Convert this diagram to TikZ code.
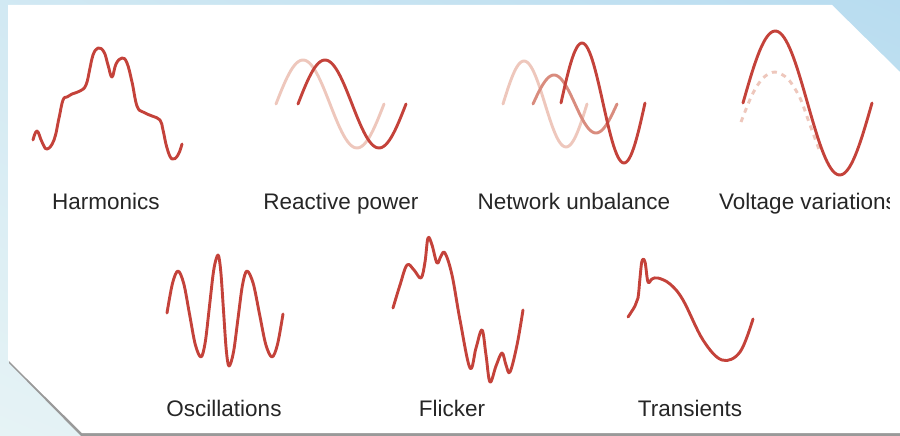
\documentclass[tikz,border=0pt]{standalone}
\usepackage{xcolor}
\usepackage{fontspec}
\setmainfont{Liberation Sans}
\usepackage{tikz}
\usetikzlibrary{shadings}

\definecolor{wavered}{HTML}{C4423A}
\definecolor{wavemid}{HTML}{D98C7E}
\definecolor{wavepale}{HTML}{EEC7BC}
\definecolor{skyblue}{HTML}{B8DCF0}
\definecolor{paleblue}{HTML}{E6F3F5}

\begin{document}
\begin{tikzpicture}[x=1pt,y=-1pt,
	wave/.style={line width=2.9pt, draw=wavered, line cap=round, line join=round},
	midwave/.style={wave, draw=wavemid},
	palewave/.style={wave, draw=wavepale},
	caption/.style={anchor=base, inner sep=0pt, text=black!85, font=\fontsize{22.5}{27}\selectfont}]
\useasboundingbox (0,0) rectangle (900,436);
\shade[upper left=paleblue!55!skyblue, upper right=skyblue, lower left=paleblue, lower right=paleblue!60!skyblue] (0,0) rectangle (900,436);
% panel
\fill[black!40] (9,7) -- (833,7) -- (902,75) -- (902,437) -- (82,437) -- (9,363) -- cycle;
\fill[white] (8,5) -- (832,5) -- (900,72) -- (900,433) -- (82,433) -- (8,360) -- cycle;

% first row
\draw[wave] plot[smooth, tension=0.7] coordinates {
	(33,140) (37,131) (42,142) (47,149) (54,140) (59,118) (63,100) (67,97)
	(72,94) (80,91) (86,85) (90,68) (93,55) (98,48) (104,52) (108,65)
	(112,77) (116,64) (122,58) (127,63) (132,82) (137,106) (143,112)
	(152,116) (160,120) (163,130) (167,148) (172,159) (178,155) (182,144)};
\node[caption] (harmonics) at (106,209) {Harmonics};

\draw[palewave] plot[domain=276:384, samples=60] (\x, {104-44*sin(360*((\x-276)/108))});
\draw[wave] plot[domain=298:406, samples=60] (\x, {104-44*sin(360*((\x-298)/108))});
\node[caption] (reactive) at (341,209) {Reactive power};

\draw[palewave] plot[domain=503:587, samples=60] (\x, {104-43*sin(360*((\x-503)/84))});
\draw[midwave] plot[domain=533:617, samples=60] (\x, {104-29*sin(360*((\x-533)/84))});
\draw[wave] plot[domain=561:645, samples=60] (\x, {103-60*sin(360*((\x-561)/84))});
\node[caption] (unbalance) at (574,209) {Network unbalance};

\draw[palewave, dashed, dash pattern=on 5pt off 5pt, line cap=butt] plot[smooth] coordinates {
	(741,122) (752,95) (763,78) (775,72) (788,79) (800,98) (810,125) (820,152)};
\draw[wave] plot[domain=743:872, samples=70] (\x, {103-72*sin(360*((\x-743)/129))});
\begin{scope}
	\clip (700,180) rectangle (889,230);
	\node[caption, anchor=base west] (voltage) at (719,209) {Voltage variations};
\end{scope}

% second row
\draw[wave] plot[smooth, tension=0.55] coordinates {
	(167,313) (172.5,283.3) (178,271) (183.75,283.6) (189.5,314) (195.25,344.4)
	(201,357) (205.25,342.1) (209.5,306) (213.75,269.9) (218,255) (220.75,271.2)
	(223.5,310.5) (226.25,349.8) (229,366) (233.5,352.1) (238,318.5) (242.5,284.9)
	(247,271) (253.25,283.6) (259.5,314) (265.75,344.4) (272,357) (277.5,344.4)
	(283,314)};
\node[caption] (oscillations) at (224,416) {Oscillations};

\draw[wave] plot[smooth, tension=0.6] coordinates {
	(393,308) (400,285) (407,265) (414,270) (421,278) (425,262) (428,238)
	(432,245) (437,263) (441,256) (445,253) (452,275) (460,320) (470,368)
	(476,348) (482,330) (486,355) (490,382) (496,366) (502,353) (506,365)
	(510,372) (517,345) (523,310)};
\node[caption] (flicker) at (452,416) {Flicker};

\draw[wave] plot[smooth, tension=0.6] coordinates {
	(628,317) (635,306) (638,298) (640,278) (642,261) (645,262) (648,282)
	(652,279) (658,278) (670,284) (683,300) (703,340) (722,360) (740,352)
	(753,319)};
\node[caption] (transients) at (690,416) {Transients};
\end{tikzpicture}
\end{document}
